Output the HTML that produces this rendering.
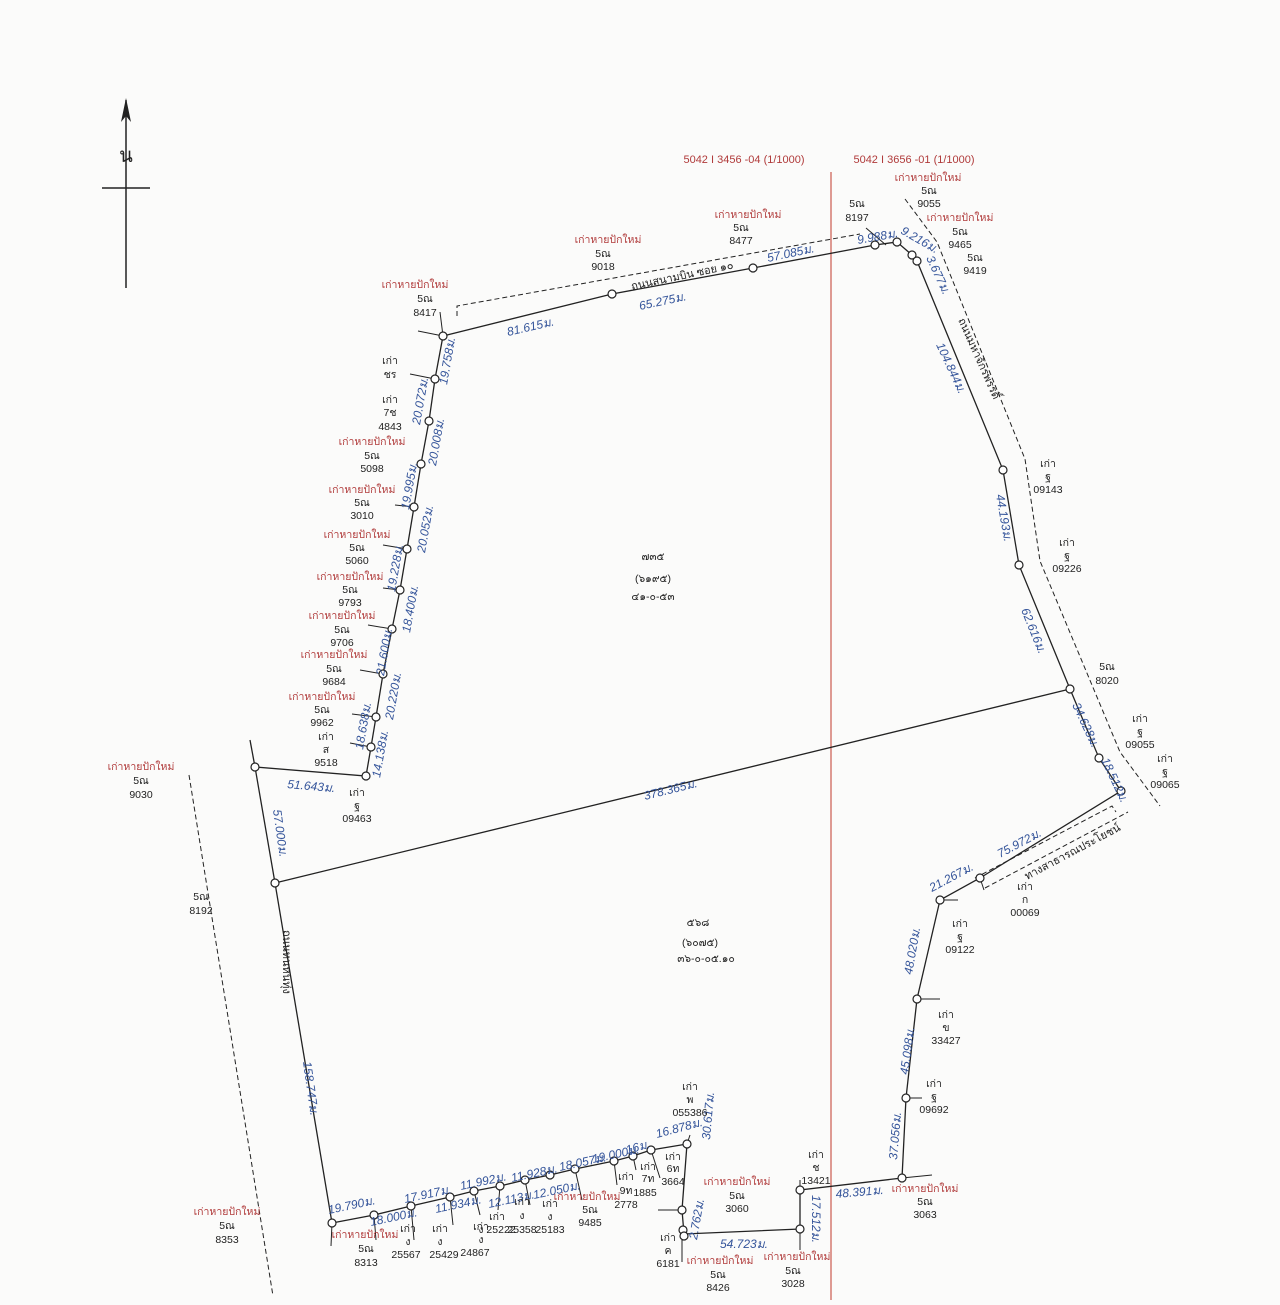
<!DOCTYPE html>
<html><head><meta charset="utf-8"><style>
html,body{margin:0;padding:0;background:#fbfbfa;}
svg{display:block}
text{font-family:"Liberation Sans","Noto Sans CJK SC",sans-serif;}
.b{fill:#34549a;font-style:italic;font-size:12px}
.k{fill:#222;font-size:10.5px;text-anchor:middle}
.r{fill:#b03a3a;font-size:10.5px;text-anchor:middle}
.n{fill:#fff;stroke:#222;stroke-width:1.2}
</style></head><body>
<svg width="1280" height="1305" viewBox="0 0 1280 1305" xmlns="http://www.w3.org/2000/svg">
<rect width="1280" height="1305" fill="#fbfbfa"/>
<line x1="126" y1="100" x2="126" y2="288" stroke="#222" stroke-width="1.5"/>
<line x1="102" y1="188" x2="150" y2="188" stroke="#222" stroke-width="1.5"/>
<polygon points="126,98 121,122 126,116 131,122" fill="#222"/>
<text x="126" y="162" font-size="20" text-anchor="middle" fill="#222">น</text>
<line x1="831" y1="172" x2="831" y2="1300" stroke="#c0392b" stroke-width="1"/>
<text x="744" y="163" font-size="11" fill="#b03a3a" text-anchor="middle">5042 I 3456 -04 (1/1000)</text>
<text x="914" y="163" font-size="11" fill="#b03a3a" text-anchor="middle">5042 I 3656 -01 (1/1000)</text>
<g stroke="#222" stroke-width="1" fill="none" stroke-dasharray="5,3">
<polyline points="457,316 457,306 860,234"/>
<polyline points="905,199 937,242 1025,459 1040,561 1120,752 1160,806"/>
<polyline points="189,775 273,1296"/>
<polyline points="975,878 1112,806 1116,812"/>
<polyline points="985,888 1128,812"/>
</g>
<line x1="866" y1="228" x2="886" y2="245" stroke="#222"/>
<g stroke="#222" stroke-width="1.3" fill="none">
<polyline points="443,336 612,294 753,268 875,245 897,242 912,255 917,261 1003,470 1019,565 1070,689 1099,758 1121,791 980,878 940,900 917,999 906,1098 902,1178 800,1190 800,1229 684,1234 682,1210 687,1144 651,1150 633,1156 614,1161 575,1169 550,1175 525,1180 500,1186 474,1191 450,1197 411,1206 374,1215 332,1223 275,883 255,767 366,776 371,747 376,717 383,674 392,629 400,590 407,549 414,507 421,464 429,421 435,379 443,336"/>
<line x1="275" y1="883" x2="1070" y2="689"/>
<line x1="250" y1="740" x2="255" y2="767"/>
</g>
<g stroke="#222" stroke-width="1">
<line x1="443" y1="336" x2="418" y2="331"/><line x1="443" y1="336" x2="440" y2="312"/>
<line x1="435" y1="379" x2="410" y2="374"/><line x1="414" y1="507" x2="395" y2="505"/>
<line x1="407" y1="549" x2="383" y2="545"/><line x1="400" y1="590" x2="383" y2="588"/>
<line x1="392" y1="629" x2="368" y2="625"/><line x1="383" y1="674" x2="360" y2="670"/>
<line x1="376" y1="717" x2="352" y2="714"/><line x1="371" y1="747" x2="350" y2="743"/>
<line x1="332" y1="1223" x2="331" y2="1246"/><line x1="374" y1="1215" x2="376" y2="1240"/>
<line x1="411" y1="1206" x2="414" y2="1240"/><line x1="450" y1="1197" x2="453" y2="1225"/>
<line x1="474" y1="1191" x2="480" y2="1215"/><line x1="500" y1="1186" x2="498" y2="1210"/>
<line x1="525" y1="1180" x2="530" y2="1205"/><line x1="575" y1="1169" x2="582" y2="1200"/>
<line x1="614" y1="1161" x2="617" y2="1185"/><line x1="633" y1="1156" x2="636" y2="1170"/>
<line x1="651" y1="1150" x2="660" y2="1178"/><line x1="687" y1="1144" x2="690" y2="1135"/>
<line x1="682" y1="1210" x2="658" y2="1210"/><line x1="682" y1="1234" x2="682" y2="1262"/>
<line x1="800" y1="1229" x2="800" y2="1250"/><line x1="902" y1="1178" x2="932" y2="1175"/>
<line x1="917" y1="999" x2="940" y2="999"/><line x1="906" y1="1098" x2="922" y2="1098"/>
<line x1="940" y1="900" x2="958" y2="900"/><line x1="980" y1="878" x2="984" y2="890"/>
<line x1="800" y1="1190" x2="800" y2="1180"/>
</g>
<g class="n">
<circle cx="443" cy="336" r="4"/><circle cx="435" cy="379" r="4"/><circle cx="429" cy="421" r="4"/><circle cx="421" cy="464" r="4"/><circle cx="414" cy="507" r="4"/><circle cx="407" cy="549" r="4"/><circle cx="400" cy="590" r="4"/><circle cx="392" cy="629" r="4"/><circle cx="383" cy="674" r="4"/><circle cx="376" cy="717" r="4"/><circle cx="371" cy="747" r="4"/><circle cx="366" cy="776" r="4"/><circle cx="255" cy="767" r="4"/><circle cx="275" cy="883" r="4"/>
<circle cx="612" cy="294" r="4"/><circle cx="753" cy="268" r="4"/><circle cx="875" cy="245" r="4"/><circle cx="897" cy="242" r="4"/><circle cx="912" cy="255" r="4"/><circle cx="917" cy="261" r="4"/><circle cx="1003" cy="470" r="4"/><circle cx="1019" cy="565" r="4"/><circle cx="1070" cy="689" r="4"/><circle cx="1099" cy="758" r="4"/><circle cx="1121" cy="791" r="4"/><circle cx="980" cy="878" r="4"/><circle cx="940" cy="900" r="4"/><circle cx="917" cy="999" r="4"/><circle cx="906" cy="1098" r="4"/><circle cx="902" cy="1178" r="4"/><circle cx="800" cy="1190" r="4"/><circle cx="800" cy="1229" r="4"/>
<circle cx="682" cy="1210" r="4"/><circle cx="683" cy="1230" r="4"/><circle cx="684" cy="1236" r="4"/><circle cx="687" cy="1144" r="4"/><circle cx="651" cy="1150" r="4"/><circle cx="633" cy="1156" r="4"/><circle cx="614" cy="1161" r="4"/><circle cx="575" cy="1169" r="4"/><circle cx="550" cy="1175" r="4"/><circle cx="525" cy="1180" r="4"/><circle cx="500" cy="1186" r="4"/><circle cx="474" cy="1191" r="4"/><circle cx="450" cy="1197" r="4"/><circle cx="411" cy="1206" r="4"/><circle cx="374" cy="1215" r="4"/><circle cx="332" cy="1223" r="4"/>
</g>
<g class="b">
<text transform="translate(508,336) rotate(-13)">81.615ม.</text>
<text transform="translate(640,310) rotate(-12)">65.275ม.</text>
<text transform="translate(768,262) rotate(-12)">57.085ม.</text>
<text transform="translate(858,244) rotate(-10)">9.988ม.</text>
<text transform="translate(900,233) rotate(30)">9.216ม.</text>
<text transform="translate(926,258) rotate(65)">3.677ม.</text>
<text transform="translate(936,345) rotate(65)">104.844ม.</text>
<text transform="translate(996,495) rotate(80)">44.193ม.</text>
<text transform="translate(1021,610) rotate(68)">62.616ม.</text>
<text transform="translate(1072,705) rotate(65)">34.628ม.</text>
<text transform="translate(1101,760) rotate(65)">18.512ม.</text>
<text transform="translate(645,800) rotate(-14)">378.365ม.</text>
<text transform="translate(1000,858) rotate(-28)">75.972ม.</text>
<text transform="translate(932,892) rotate(-28)">21.267ม.</text>
<text transform="translate(912,975) rotate(-80)">48.020ม.</text>
<text transform="translate(908,1075) rotate(-82)">45.098ม.</text>
<text transform="translate(897,1160) rotate(-85)">37.056ม.</text>
<text transform="translate(836,1198) rotate(-5)">48.391ม.</text>
<text transform="translate(812,1195) rotate(90)">17.512ม.</text>
<text transform="translate(720,1248)">54.723ม.</text>
<text transform="translate(697,1240) rotate(-80)">2.762ม.</text>
<text transform="translate(710,1140) rotate(-85)">30.617ม.</text>
<text transform="translate(657,1138) rotate(-15)">16.878ม.</text>
<text transform="translate(627,1154) rotate(-15)">16ม.</text>
<text transform="translate(593,1163) rotate(-12)">19.000ม.</text>
<text transform="translate(560,1171) rotate(-12)">18.057ม.</text>
<text transform="translate(534,1199) rotate(-12)">12.050ม.</text>
<text transform="translate(512,1182) rotate(-12)">11.928ม.</text>
<text transform="translate(489,1208) rotate(-12)">12.113ม.</text>
<text transform="translate(461,1190) rotate(-12)">11.992ม.</text>
<text transform="translate(436,1213) rotate(-12)">11.934ม.</text>
<text transform="translate(405,1203) rotate(-12)">17.917ม.</text>
<text transform="translate(371,1226) rotate(-12)">18.000ม.</text>
<text transform="translate(329,1214) rotate(-12)">19.790ม.</text>
<text transform="translate(287,788) rotate(5)">51.643ม.</text>
<text transform="translate(273,810) rotate(82)">57.000ม.</text>
<text transform="translate(303,1062) rotate(82)">158.747ม.</text>
<text transform="translate(447,385) rotate(-80)">19.758ม.</text>
<text transform="translate(420,425) rotate(-80)">20.072ม.</text>
<text transform="translate(436,466) rotate(-80)">20.008ม.</text>
<text transform="translate(409,510) rotate(-80)">19.995ม.</text>
<text transform="translate(425,553) rotate(-80)">20.052ม.</text>
<text transform="translate(395,592) rotate(-80)">19.228ม.</text>
<text transform="translate(410,633) rotate(-80)">18.400ม.</text>
<text transform="translate(384,676) rotate(-80)">21.600ม.</text>
<text transform="translate(393,720) rotate(-80)">20.220ม.</text>
<text transform="translate(363,750) rotate(-80)">18.638ม.</text>
<text transform="translate(380,778) rotate(-80)">14.138ม.</text>
</g>
<text transform="translate(632,290) rotate(-12)" font-size="11" fill="#222">ถนนสนามบิน ซอย ๑๐</text>
<text transform="translate(958,320) rotate(66)" font-size="11" fill="#222">ถนนมหาจักรพรรดิ์</text>
<text transform="translate(283,930) rotate(90)" font-size="11" fill="#222">ถนนหนหนทุ่ง</text>
<text transform="translate(1027,880) rotate(-28)" font-size="11" fill="#222">ทางสาธารณประโยชน์</text>
<text x="653" y="560" class="k" font-size="12">๗๓๕</text>
<text x="653" y="582" class="k" font-size="12">(๖๑๙๕)</text>
<text x="653" y="600" class="k" font-size="12">๔๑-๐-๕๓</text>
<text x="698" y="926" class="k" font-size="12">๕๖๘</text>
<text x="700" y="946" class="k" font-size="12">(๖๐๗๕)</text>
<text x="706" y="962" class="k" font-size="12">๓๖-๐-๐๕.๑๐</text>
<g>
<text class="r" x="415" y="288">เก่าหายปักใหม่</text><text class="k" x="425" y="302">5ณ</text><text class="k" x="425" y="316">8417</text>
<text class="r" x="608" y="243">เก่าหายปักใหม่</text><text class="k" x="603" y="257">5ณ</text><text class="k" x="603" y="270">9018</text>
<text class="r" x="748" y="218">เก่าหายปักใหม่</text><text class="k" x="741" y="231">5ณ</text><text class="k" x="741" y="244">8477</text>
<text class="k" x="857" y="207">5ณ</text><text class="k" x="857" y="221">8197</text>
<text class="r" x="928" y="181">เก่าหายปักใหม่</text><text class="k" x="929" y="194">5ณ</text><text class="k" x="929" y="207">9055</text>
<text class="r" x="960" y="221">เก่าหายปักใหม่</text><text class="k" x="960" y="235">5ณ</text><text class="k" x="960" y="248">9465</text>
<text class="k" x="975" y="261">5ณ</text><text class="k" x="975" y="274">9419</text>
<text class="k" x="1048" y="467">เก่า</text><text class="k" x="1048" y="480">ฐ</text><text class="k" x="1048" y="493">09143</text>
<text class="k" x="1067" y="546">เก่า</text><text class="k" x="1067" y="559">ฐ</text><text class="k" x="1067" y="572">09226</text>
<text class="k" x="1107" y="670">5ณ</text><text class="k" x="1107" y="684">8020</text>
<text class="k" x="1140" y="722">เก่า</text><text class="k" x="1140" y="735">ฐ</text><text class="k" x="1140" y="748">09055</text>
<text class="k" x="1165" y="762">เก่า</text><text class="k" x="1165" y="775">ฐ</text><text class="k" x="1165" y="788">09065</text>
<text class="k" x="1025" y="890">เก่า</text><text class="k" x="1025" y="903">ก</text><text class="k" x="1025" y="916">00069</text>
<text class="k" x="960" y="927">เก่า</text><text class="k" x="960" y="940">ฐ</text><text class="k" x="960" y="953">09122</text>
<text class="k" x="946" y="1018">เก่า</text><text class="k" x="946" y="1031">ข</text><text class="k" x="946" y="1044">33427</text>
<text class="k" x="934" y="1087">เก่า</text><text class="k" x="934" y="1100">ฐ</text><text class="k" x="934" y="1113">09692</text>
<text class="r" x="925" y="1192">เก่าหายปักใหม่</text><text class="k" x="925" y="1205">5ณ</text><text class="k" x="925" y="1218">3063</text>
<text class="k" x="816" y="1158">เก่า</text><text class="k" x="816" y="1171">ช</text><text class="k" x="816" y="1184">13421</text>
<text class="r" x="737" y="1185">เก่าหายปักใหม่</text><text class="k" x="737" y="1199">5ณ</text><text class="k" x="737" y="1212">3060</text>
<text class="r" x="797" y="1260">เก่าหายปักใหม่</text><text class="k" x="793" y="1274">5ณ</text><text class="k" x="793" y="1287">3028</text>
<text class="r" x="720" y="1264">เก่าหายปักใหม่</text><text class="k" x="718" y="1278">5ณ</text><text class="k" x="718" y="1291">8426</text>
<text class="k" x="668" y="1241">เก่า</text><text class="k" x="668" y="1254">ค</text><text class="k" x="668" y="1267">6181</text>
<text class="k" x="690" y="1090">เก่า</text><text class="k" x="690" y="1103">พ</text><text class="k" x="690" y="1116">055386</text>
<text class="k" x="673" y="1160">เก่า</text><text class="k" x="673" y="1172">6ท</text><text class="k" x="673" y="1185">3664</text>
<text class="k" x="648" y="1170">เก่า</text><text class="k" x="648" y="1182">7ท</text><text class="k" x="645" y="1196">1885</text>
<text class="k" x="626" y="1180">เก่า</text><text class="k" x="626" y="1194">9ท</text><text class="k" x="626" y="1208">2778</text>
<text class="r" x="587" y="1200">เก่าหายปักใหม่</text><text class="k" x="590" y="1213">5ณ</text><text class="k" x="590" y="1226">9485</text>
<text class="k" x="550" y="1207">เก่า</text><text class="k" x="550" y="1220">ง</text><text class="k" x="550" y="1233">25183</text>
<text class="k" x="522" y="1205">เก่า</text><text class="k" x="522" y="1219">ง</text><text class="k" x="522" y="1233">25358</text>
<text class="k" x="497" y="1220">เก่า</text><text class="k" x="497" y="1233">ง 25222</text>
<text class="k" x="481" y="1230">เก่า</text><text class="k" x="481" y="1243">ง</text><text class="k" x="475" y="1256">24867</text>
<text class="k" x="440" y="1232">เก่า</text><text class="k" x="440" y="1245">ง</text><text class="k" x="444" y="1258">25429</text>
<text class="k" x="408" y="1232">เก่า</text><text class="k" x="408" y="1245">ง</text><text class="k" x="406" y="1258">25567</text>
<text class="r" x="365" y="1238">เก่าหายปักใหม่</text><text class="k" x="366" y="1252">5ณ</text><text class="k" x="366" y="1266">8313</text>
<text class="r" x="227" y="1215">เก่าหายปักใหม่</text><text class="k" x="227" y="1229">5ณ</text><text class="k" x="227" y="1243">8353</text>
<text class="k" x="201" y="900">5ณ</text><text class="k" x="201" y="914">8192</text>
<text class="r" x="141" y="770">เก่าหายปักใหม่</text><text class="k" x="141" y="784">5ณ</text><text class="k" x="141" y="798">9030</text>
<text class="k" x="390" y="364">เก่า</text><text class="k" x="390" y="378">ชร</text>
<text class="k" x="390" y="403">เก่า</text><text class="k" x="390" y="416">7ช</text><text class="k" x="390" y="430">4843</text>
<text class="r" x="372" y="445">เก่าหายปักใหม่</text><text class="k" x="372" y="459">5ณ</text><text class="k" x="372" y="472">5098</text>
<text class="r" x="362" y="493">เก่าหายปักใหม่</text><text class="k" x="362" y="506">5ณ</text><text class="k" x="362" y="519">3010</text>
<text class="r" x="357" y="538">เก่าหายปักใหม่</text><text class="k" x="357" y="551">5ณ</text><text class="k" x="357" y="564">5060</text>
<text class="r" x="350" y="580">เก่าหายปักใหม่</text><text class="k" x="350" y="593">5ณ</text><text class="k" x="350" y="606">9793</text>
<text class="r" x="342" y="619">เก่าหายปักใหม่</text><text class="k" x="342" y="633">5ณ</text><text class="k" x="342" y="646">9706</text>
<text class="r" x="334" y="658">เก่าหายปักใหม่</text><text class="k" x="334" y="672">5ณ</text><text class="k" x="334" y="685">9684</text>
<text class="r" x="322" y="700">เก่าหายปักใหม่</text><text class="k" x="322" y="713">5ณ</text><text class="k" x="322" y="726">9962</text>
<text class="k" x="326" y="740">เก่า</text><text class="k" x="326" y="753">ส</text><text class="k" x="326" y="766">9518</text>
<text class="k" x="357" y="796">เก่า</text><text class="k" x="357" y="809">ฐ</text><text class="k" x="357" y="822">09463</text>
</g>
</svg>
</body></html>
